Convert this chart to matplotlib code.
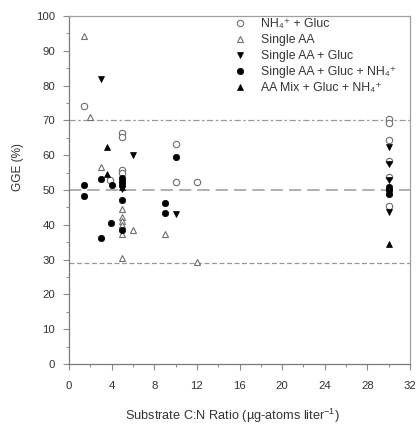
import matplotlib
matplotlib.use("Agg")
import matplotlib.pyplot as plt
from matplotlib.ticker import MultipleLocator

plt.rcParams['font.family'] = ['Liberation Sans', 'DejaVu Sans']
plt.rcParams['mathtext.fontset'] = 'custom'
plt.rcParams['mathtext.rm'] = 'Liberation Sans'
plt.rcParams['mathtext.it'] = 'Liberation Sans:italic'

# ---- data ----
nh4_gluc_x = [1.4, 5, 5, 5, 5, 3.85, 10, 10, 12, 30, 30, 30, 30, 30, 30]
nh4_gluc_y = [74.1, 66.3, 65.3, 55.7, 54.8, 52.9, 63.2, 52.4, 52.4, 70.3, 69.2, 64.4, 58.3, 53.8, 45.4]

single_aa_x = [1.4, 2.0, 3.0, 5, 5, 5, 5, 5, 5, 6.0, 9.0, 12.0]
single_aa_y = [94.3, 71.1, 56.6, 44.4, 42.3, 41.0, 40.0, 37.5, 30.4, 38.4, 37.4, 29.4]

aa_gluc_x = [3.0, 6.0, 5, 10, 30, 30, 30, 30, 30]
aa_gluc_y = [81.9, 60.2, 50.3, 43.1, 62.4, 57.5, 52.9, 49.5, 43.8]

aa_gluc_nh4_x = [1.4, 1.4, 3.0, 4.0, 5, 5, 5, 5, 5, 3.9, 3.0, 10, 9, 9, 30, 30, 30]
aa_gluc_nh4_y = [51.4, 48.4, 53.3, 51.4, 53.5, 52.5, 51.5, 47.1, 38.4, 40.4, 36.3, 59.4, 46.4, 43.3, 51.0, 50.0, 48.8]

aamix_x = [3.55, 3.6, 5, 5, 30, 30]
aamix_y = [62.4, 54.6, 53.0, 51.0, 49.5, 34.4]

labels = ['NH₄⁺ + Gluc', 'Single AA', 'Single AA + Gluc',
          'Single AA + Gluc + NH₄⁺', 'AA Mix + Gluc + NH₄⁺']

ref_lines = [70, 50, 29]

xticks = list(range(0, 33, 4))
yticks = list(range(0, 101, 10))

# ---- figure ----
fig = plt.figure(figsize=(4.19, 4.26), dpi=100)
ax = fig.add_axes([69/419, 1-364/426, 341/419, 348/426])

gray = '#8a8a8a'
ax.axhline(ref_lines[0], color='#9a9a9a', lw=0.9, dashes=(5, 2, 2, 2), zorder=1)
ax.axhline(ref_lines[1], color='#9a9a9a', lw=1.1, dashes=(8, 4), zorder=1)
ax.axhline(ref_lines[2], color='#9a9a9a', lw=0.9, dashes=(4, 2), zorder=1)

ms = 4.6
ax.plot(nh4_gluc_x, nh4_gluc_y, 'o', ms=ms, mfc='white', mec='#6e6e6e', mew=0.8,
        ls='none', label=labels[0], zorder=3)
ax.plot(single_aa_x, single_aa_y, '^', ms=ms, mfc='white', mec='#6e6e6e', mew=0.8,
        ls='none', label=labels[1], zorder=3)
ax.plot(aa_gluc_x, aa_gluc_y, 'v', ms=ms, mfc='black', mec='black', mew=0.5,
        ls='none', label=labels[2], zorder=4)
ax.plot(aa_gluc_nh4_x, aa_gluc_nh4_y, 'o', ms=ms, mfc='black', mec='black', mew=0.5,
        ls='none', label=labels[3], zorder=4)
ax.plot(aamix_x, aamix_y, '^', ms=ms, mfc='black', mec='black', mew=0.5,
        ls='none', label=labels[4], zorder=4)

ax.set_xlim(0, 32)
ax.set_ylim(0, 100)
ax.set_xticks(xticks)
ax.set_yticks(yticks)
ax.xaxis.set_minor_locator(MultipleLocator(2))
ax.yaxis.set_minor_locator(MultipleLocator(5))

txtc = '#333333'
ax.tick_params(which='major', direction='out', length=4, width=0.8, color=gray,
               labelsize=8.2, labelcolor=txtc)
ax.tick_params(axis='y', which='major', pad=6)
ax.tick_params(axis='x', which='major', pad=8)
ax.tick_params(which='minor', direction='out', length=2.5, width=0.7, color=gray)
for s in ['left', 'bottom']:
    ax.spines[s].set_color('#7a7a7a')
    ax.spines[s].set_linewidth(0.9)
for s in ['top', 'right']:
    ax.spines[s].set_color('#a0a0a0')
    ax.spines[s].set_linewidth(0.9)

ax.set_xlabel(r'Substrate C:N Ratio (µg-atoms liter$^{-1}$)', fontsize=9.2, color=txtc)
ax.xaxis.set_label_coords(0.48, -0.123)
ax.set_ylabel('GGE (%)', fontsize=8.5, color=txtc)
ax.yaxis.set_label_coords(-0.133, 0.565)

leg = ax.legend(loc='upper left', bbox_to_anchor=(0.48, 1.0), frameon=False,
                fontsize=8.8, handlelength=0.8, handletextpad=1.3, labelspacing=0.32,
                borderaxespad=0, borderpad=0.2)
for t in leg.get_texts():
    t.set_color(txtc)

fig.savefig('out.png', dpi=100)
